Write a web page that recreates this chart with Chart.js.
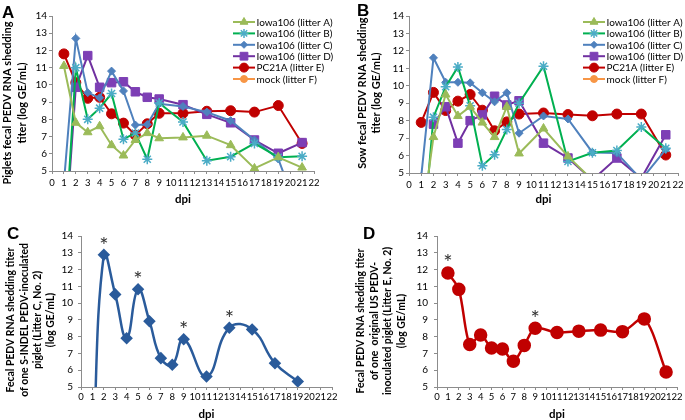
<!DOCTYPE html>
<html>
<head>
<meta charset="utf-8">
<script src="https://cdn.jsdelivr.net/npm/chart.js@4/dist/chart.umd.min.js"></script>
<style>
  body { margin: 0; background: #fff; }
  #wrap { position: relative; width: 685px; height: 420px; overflow: hidden; background: #fff; }
  #wrap canvas { position: absolute; }
  .tag { position: absolute; font: bold 17px "Liberation Sans", Arial, sans-serif; line-height: 17px; color: #000; }
</style>
</head>
<body>
<div id="wrap">
  <canvas id="chartA" width="342" height="206" style="left:0;top:0;width:342px;height:206px"></canvas>
  <canvas id="chartB" width="343" height="206" style="left:342px;top:0;width:343px;height:206px"></canvas>
  <canvas id="chartC" width="342" height="214" style="left:0;top:206px;width:342px;height:214px"></canvas>
  <canvas id="chartD" width="343" height="214" style="left:342px;top:206px;width:343px;height:214px"></canvas>
  <div class="tag" style="left:2px;top:4px">A</div>
  <div class="tag" style="left:357px;top:2px">B</div>
  <div class="tag" style="left:7px;top:225px">C</div>
  <div class="tag" style="left:363px;top:225px">D</div>
</div>
<script>
// days post inoculation
const days = [1, 2, 3, 4, 5, 6, 7, 8, 9, 11, 13, 15, 17, 19, 21];
const daysC = [1, 2, 3, 4, 5, 6, 7, 8, 9, 11, 13, 15, 17, 19];

const seriesLabels = ['Iowa106 (litter A)', 'Iowa106 (litter B)', 'Iowa106 (litter C)',
                      'Iowa106 (litter D)', 'PC21A (litter E)', 'mock (litter F)'];

// A: piglets, log GE/mL (values under 5 fall below the axis)
const pigLitterA = [11.1, 7.8, 7.25, 7.6, 6.5, 5.9, 6.8, 7.2, 6.9, 6.95, 7.05, 6.5, 5.15, 5.8, 5.2];
const pigLitterB = [0, 11.0, 8.0, 8.65, 9.5, 6.85, 7.2, 5.68, 8.95, 7.85, 5.6, 5.83, 6.6, 5.8, 5.85];
const pigLitterC = [4.3, 12.7, 9.55, 9.25, 10.8, 9.65, 7.67, 7.7, 8.9, 8.75, 8.42, 7.92, 6.8, 5.7, 2];
const pigLitterD = [0, 9.86, 11.7, 9.86, 10.13, 10.18, 9.6, 9.28, 9.18, 8.85, 8.29, 7.8, 6.8, 6.03, 6.65];
const pigLitterE = [11.8, 10.13, 9.22, 9.28, 8.32, 7.78, 7.08, 7.74, 8.35, 8.35, 8.47, 8.5, 8.42, 8.8, 6.6];
const pigLitterF = [0, 0, 0, 0, 0, 0, 0, 0, 0, 0, 0, 0, 0, 0, 0];

// B: sows
const sowLitterA = [2, 7.06, 9.5, 8.27, 8.8, 7.89, 7.06, 8.8, 6.12, 7.55, 5.95, 4.6, 0, 0, 0];
const sowLitterB = [0, 8.2, 9.95, 11.08, 8.85, 5.42, 6.05, 7.5, 9.0, 11.12, 5.66, 6.16, 6.29, 7.63, 6.42];
const sowLitterC = [4.8, 11.6, 10.2, 10.2, 10.17, 9.6, 9.08, 9.6, 7.28, 8.27, 8.1, 6.18, 6.14, 4.62, 6.35];
const sowLitterD = [null, 7.8, 8.8, 6.71, 8.0, 8.33, 9.4, 8.9, 9.14, 6.71, 5.86, 4.6, 5.86, 4.7, 7.19];
const sowLitterE = [7.9, 9.62, 8.58, 9.12, 9.5, 8.6, 7.42, 7.93, 8.38, 8.44, 8.35, 8.28, 8.38, 8.38, 6.03];
const sowLitterF = [0, 0, 0, 0, 0, 0, 0, 0, 0, 0, 0, 0, 0, 0, 0];

// C: S-INDEL piglet (litter C, no. 2)
const indelPiglet = [0, 12.88, 10.52, 7.91, 10.82, 8.92, 6.72, 6.32, 7.84, 5.62, 8.53, 8.43, 6.42, 5.33];
const indelStarDays = [2, 5, 9, 13];

// D: original US piglet (litter E, no. 2)
const usPiglet = [11.8, 10.82, 7.53, 8.1, 7.33, 7.26, 6.53, 7.48, 8.5, 8.25, 8.33, 8.39, 8.3, 9.06, 5.9];
const usStarDays = [1, 9];

const seriesStyle = [
  { line: '#9BBB59', fill: '#9BBB59', edge: '#9BBB59', shape: 'triangle', r: 5, bw: 1 },
  { line: '#00B050', fill: '#4BACC6', edge: '#4BACC6', shape: 'star', r: 5, bw: 1.5 },
  { line: '#4F81BD', fill: '#4F81BD', edge: '#4F81BD', shape: 'rectRot', r: 4, bw: 1 },
  { line: '#7030A0', fill: '#7D3FB5', edge: '#7D3FB5', shape: 'rect', r: 6, bw: 1 },
  { line: '#C00000', fill: '#C00000', edge: '#C00000', shape: 'circle', r: 5, bw: 1 },
  { line: '#F79646', fill: '#F79646', edge: '#F79646', shape: 'circle', r: 4, bw: 1 }
];

const FONT = 'Lato, "Open Sans", sans-serif';
const axisGrey = '#8c8c8c';

const pts = (xs, ys) => xs.map((x, i) => ({ x, y: ys[i] }));

function litterSets(values) {
  return values.map((vals, i) => {
    const s = seriesStyle[i];
    return {
      label: seriesLabels[i],
      data: pts(days, vals),
      borderColor: s.line,
      borderWidth: 2,
      backgroundColor: s.fill,
      pointBackgroundColor: s.fill,
      pointBorderColor: s.edge,
      pointBorderWidth: s.bw,
      pointStyle: s.shape,
      pointRadius: s.r,
      tension: 0,
      clip: { left: 10, top: 10, right: 10, bottom: 0 }
    };
  });
}

// legend drawn inside the plot, top right
const insideLegend = {
  id: 'insideLegend',
  afterDraw(chart, args, opts) {
    if (!opts || opts.x === undefined) return;
    const ctx = chart.ctx;
    ctx.save();
    ctx.font = '10px ' + FONT;
    ctx.textBaseline = 'middle';
    chart.data.datasets.forEach((ds, i) => {
      const y = opts.y + i * opts.gap;
      ctx.strokeStyle = ds.borderColor;
      ctx.lineWidth = ds.borderWidth;
      ctx.beginPath();
      ctx.moveTo(opts.x, y);
      ctx.lineTo(opts.x + opts.len, y);
      ctx.stroke();
      ctx.fillStyle = ds.pointBackgroundColor;
      ctx.strokeStyle = ds.pointBorderColor;
      ctx.lineWidth = ds.pointBorderWidth;
      Chart.helpers.drawPoint(ctx, {
        pointStyle: ds.pointStyle, radius: ds.pointRadius - 0.5,
        borderWidth: ds.pointBorderWidth, rotation: 0
      }, opts.x + opts.len / 2, y);
      ctx.fillStyle = '#000';
      ctx.fillText(ds.label, opts.x + opts.len + 1.5, y + 0.5);
    });
    ctx.restore();
  }
};

// rotated y-axis title, centred where the original puts it
const sideTitle = {
  id: 'sideTitle',
  afterDraw(chart, args, o) {
    if (!o || !o.lines) return;
    const ctx = chart.ctx;
    ctx.save();
    ctx.font = 'bold ' + o.size + 'px ' + FONT;
    ctx.fillStyle = '#000';
    ctx.textAlign = 'center';
    ctx.textBaseline = 'middle';
    o.lines.forEach((t, i) => {
      ctx.save();
      ctx.translate(o.x + i * o.gap, o.cy);
      ctx.rotate(-Math.PI / 2);
      ctx.fillText(t, 0, 0);
      ctx.restore();
    });
    ctx.restore();
  }
};

// asterisks above significant peaks
const starMarks = {
  id: 'starMarks',
  afterDatasetsDraw(chart, args, opts) {
    if (!opts || !opts.days) return;
    const ctx = chart.ctx;
    const data = chart.data.datasets[0].data;
    const xs = chart.scales.x, ys = chart.scales.y;
    ctx.save();
    ctx.font = '22px ' + FONT;
    ctx.fillStyle = '#333';
    ctx.textAlign = 'center';
    ctx.textBaseline = 'alphabetic';
    const m = ctx.measureText('*');
    const mid = (m.actualBoundingBoxAscent - m.actualBoundingBoxDescent) / 2;
    opts.days.forEach(d => {
      const p = data.find(q => q.x === d);
      if (!p) return;
      const cx = xs.getPixelForValue(d);
      const cy = ys.getPixelForValue(p.y) - opts.lift;
      ctx.fillText('*', cx, cy + mid);
    });
    ctx.restore();
  }
};

function makeChart(id, box, datasets, cfg) {
  const el = document.getElementById(id);
  return new Chart(el, {
    type: 'line',
    data: { datasets },
    options: {
      responsive: false,
      animation: false,
      events: [],
      layout: { padding: { left: 0, top: box.top, right: el.width - box.right, bottom: 0 } },
      plugins: {
        legend: { display: false },
        tooltip: { enabled: false },
        insideLegend: cfg.legend || {},
        starMarks: cfg.stars || {},
        sideTitle: cfg.title
      },
      scales: {
        x: {
          type: 'linear', min: 0, max: 22,
          ticks: { stepSize: 1, autoSkip: false, maxRotation: 0, color: '#000', font: { family: FONT, size: 9.5 }, padding: cfg.xPad },
          grid: { drawOnChartArea: false, drawTicks: true, tickLength: 3, color: axisGrey },
          border: { color: axisGrey, width: 1 },
          title: {
            display: true, text: 'dpi', color: '#000',
            font: { family: FONT, size: 11.5, weight: 'bold', lineHeight: cfg.dpiLine },
            padding: { top: 0, bottom: 0 }
          },
          afterFit(s) { s.height = el.height - box.bottom; s.paddingLeft = 0; s.paddingRight = 0; }
        },
        y: {
          min: 5, max: 14,
          ticks: { stepSize: 1, color: '#000', font: { family: FONT, size: 10 }, padding: cfg.yPad },
          grid: { drawOnChartArea: false, drawTicks: true, tickLength: 3, color: axisGrey },
          border: { color: axisGrey, width: 1 },
          afterFit(s) { s.width = box.left; s.paddingTop = 0; s.paddingBottom = 0; }
        }
      },
      elements: { line: { capBezierPoints: false } }
    },
    plugins: [insideLegend, starMarks, sideTitle]
  });
}

makeChart('chartA', { left: 52, top: 16, right: 314, bottom: 171 },
  litterSets([pigLitterA, pigLitterB, pigLitterC, pigLitterD, pigLitterE, pigLitterF]),
  {
    title: { lines: ['Piglets fecal PEDV RNA shedding', 'titer (log GE/mL)'], size: 11, x: 7, gap: 15, cy: 103 },
    yPad: 2, xPad: 3, dpiLine: 1.2,
    legend: { x: 233, y: 22, gap: 11.4, len: 22 }
  });

makeChart('chartB', { left: 67, top: 16, right: 338, bottom: 173 },
  litterSets([sowLitterA, sowLitterB, sowLitterC, sowLitterD, sowLitterE, sowLitterF]),
  {
    title: { lines: ['Sow fecal PEDV RNA shedding', 'titer (log GE/mL)'], size: 11, x: 20.5, gap: 13.5, cy: 93 },
    yPad: 2, xPad: 3, dpiLine: 1.2,
    legend: { x: 241, y: 22, gap: 11.4, len: 22 }
  });

makeChart('chartC', { left: 81, top: 30, right: 332, bottom: 181 },
  [{
    label: 'S-INDEL piglet',
    data: pts(daysC, indelPiglet),
    borderColor: '#2A5B9B', borderWidth: 2.5,
    pointBackgroundColor: '#2A5B9B', pointBorderColor: '#2A5B9B',
    pointStyle: 'rectRot', pointRadius: 4.5,
    tension: 0.45,
    clip: { left: 10, top: 10, right: 10, bottom: 0 }
  }],
  {
    title: {
      lines: ['Fecal PEDV RNA shedding titer', 'of one S-INDEL PEDV-inoculated', 'piglet (Litter C, No. 2)', '(log GE/mL)'],
      size: 10.4, x: 11, gap: 13.3, cy: 114
    },
    yPad: 5, xPad: 1, dpiLine: 1.0,
    stars: { days: indelStarDays, lift: 14.5 }
  });

makeChart('chartD', { left: 95, top: 30, right: 338, bottom: 181 },
  [{
    label: 'PC21A piglet',
    data: pts(days, usPiglet),
    borderColor: '#C00000', borderWidth: 2.5,
    pointBackgroundColor: '#C00000', pointBorderColor: '#C00000',
    pointStyle: 'circle', pointRadius: 5.5,
    tension: 0.3,
    clip: { left: 10, top: 10, right: 10, bottom: 0 }
  }],
  {
    title: {
      lines: ['Fecal PEDV RNA shedding titer', 'of one  original US PEDV-', 'inoculated piglet (Litter E, No. 2)', '(log GE/mL)'],
      size: 10.4, x: 18.7, gap: 13.7, cy: 115
    },
    yPad: 6, xPad: 1, dpiLine: 1.0,
    stars: { days: usStarDays, lift: 15 }
  });
</script>
</body>
</html>
